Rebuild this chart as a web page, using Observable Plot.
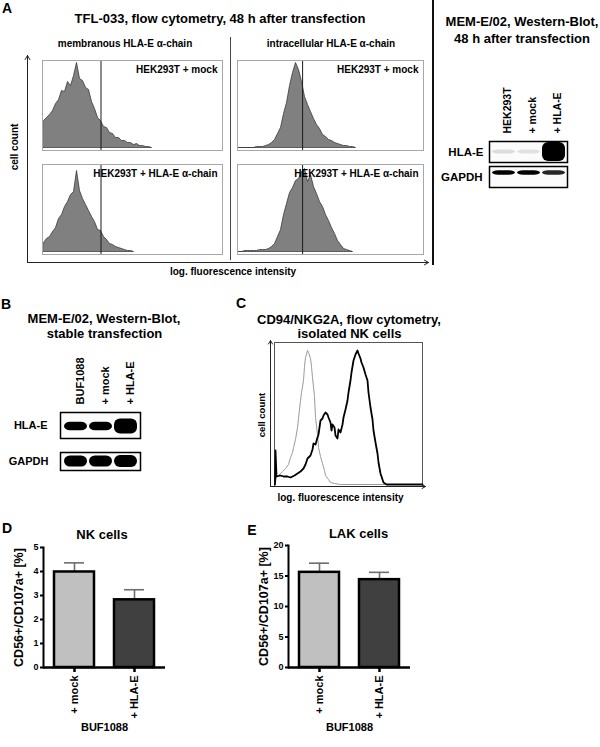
<!DOCTYPE html>
<html><head><meta charset="utf-8">
<script src="https://cdn.jsdelivr.net/npm/d3@7"></script>
<script src="https://cdn.jsdelivr.net/npm/@observablehq/plot@0.6"></script>
<style>
html,body{margin:0;padding:0;background:#fff;}
#fig{position:relative;width:600px;height:747px;overflow:hidden;background:#fff;font-family:"Liberation Sans",Arial,Helvetica,sans-serif;font-weight:bold;color:#000;}
.lbl{position:absolute;white-space:nowrap;line-height:1;}
#fig svg{overflow:visible;}
.sep{position:absolute;}
</style></head><body><div id="fig"></div>
<script>
// ---------------- DATA ----------------
// Panel A: flow cytometry histograms (cell count per fluorescence channel bin)
const memMock   = [27,30,33,37,44,48,57,56,66,62,72,85,69,67,60,58,46,39,30,27,21,20,15,14,10,10,7,7,5,5,3,4,2,2,1,1,0];
const memHLAE   = [9,13,15,20,24,33,37,45,50,57,60,81,61,53,47,41,35,30,22,21,15,12,8,7,5,4,3,2,1,1,0];
const intraMock = [0,0,0,0,0,0,1,1,1,2,3,5,8,14,20,34,45,62,75,85,78,66,51,43,36,29,23,19,13,11,8,7,5,4,3,2,2,1,1,0];
const intraHLAE = [0,0,1,1,1,1,1,2,2,2,3,5,8,15,22,37,48,59,64,71,73,80,83,70,77,65,58,50,45,37,31,24,18,11,7,3,2,1,0];
const gateMem = 19.5;    // gate channel (membranous)
const gateIntra = 21.7;  // gate channel (intracellular)
const histLabels = ["HEK293T + mock", "HEK293T + HLA-E α-chain"];

// Western blots: band signal (arbitrary densitometry units)
const lanesA = ["HEK293T", "+ mock", "+ HLA-E"];
const blotA_HLAE  = [0.12, 0.10, 6.0];
const blotA_GAPDH = [1.0, 1.0, 0.85];
const lanesB = ["BUF1088", "+ mock", "+ HLA-E"];
const blotB_HLAE  = [1.0, 1.0, 1.9];
const blotB_GAPDH = [1.0, 1.0, 1.1];

// Panel C: CD94/NKG2A histogram overlay (channel, count)
const isoChannel = [0.5,2,4,6,8,11,14,16,18,19,21,23,24,26,27,29,30,31,32,33,34,36,37,38,40,41,43,44,46,48,50,51,54,56,60,66,148];
const isoCount   = [0,7,9,11,13,16,20,27,32,37,45,57,66,84,92,104,118,127,130,134,132,126,118,107,88,67,50,37,28,21,14,9,5,2,1,0,0];
const nkChannel  = [0.5,1,2,6,9,13,16,20,23,26,29,31,33,36,38,39,41,43,44,46,48,49,51,53,54,56,57,58,60,61,63,64,66,68,69,71,73,74,76,77,79,81,83,84,86,87,89,91,93,94,96,98,99,101,103,104,106,108,109,112,148];
const nkCount    = [0,34,8,9,8,8,7,9,11,13,16,20,26,29,35,41,40,47,50,64,66,69,72,70,67,62,54,60,57,49,46,55,52,60,67,75,84,92,104,112,124,130,134,131,126,122,117,110,104,92,77,65,54,42,31,22,11,5,2,0,0];

// Panels D/E: CD107a degranulation
const bufGroups = ["+ mock", "+ HLA-E"];
const nkMean  = [3.98, 2.82];
const nkErr   = [0.38, 0.42];
const lakMean = [15.6, 14.4];
const lakErr  = [1.5, 1.2];
const nkTicks  = [0,1,2,3,4,5];
const lakTicks = [0,5,10,15,20];
const yLabel = "CD56+/CD107a+ [%]";
const xLabel = "BUF1088";

// ---------------- HELPERS ----------------
const FONT = '"Liberation Sans", Arial, Helvetica, sans-serif';
const STYLE = `font-family:${FONT};font-weight:bold;background:transparent;color:#000;overflow:visible;`;
const fig = document.getElementById("fig");
function put(node, left, top) {
  node.style.position = "absolute";
  node.style.left = left + "px";
  node.style.top = top + "px";
  fig.appendChild(node);
  return node;
}
function label(str, x, y, size, opt = {}) {
  const d = document.createElement("div");
  d.className = "lbl";
  d.textContent = str;
  d.style.fontSize = size + "px";
  d.style.left = x + "px";
  d.style.top = y + "px";
  const ax = opt.anchor === "end" ? "-100%" : opt.anchor === "start" ? "0" : "-50%";
  d.style.transform = `translate(${ax},-50%)` + (opt.rotate ? ` rotate(${opt.rotate}deg)` : "");
  fig.appendChild(d);
}
function sep(left, top, w, h, color) {
  const d = document.createElement("div");
  d.className = "sep";
  Object.assign(d.style, {left: left + "px", top: top + "px", width: w + "px", height: h + "px", background: color});
  fig.appendChild(d);
}

// ---------------- PANEL A ----------------
label("A", 7, 8, 14);
label("TFL-033, flow cytometry, 48 h after transfection", 220, 18, 13);
label("membranous HLA-E α-chain", 125, 44, 10);
label("intracellular HLA-E α-chain", 331, 44, 10);
label("cell count", 15, 147, 10, {rotate: -90});
label("log. fluorescence intensity", 233, 272, 10);
sep(230, 37, 1, 223, "#444");

const axisArrows = [{x1: 0, y1: 0, x2: 1, y2: 0}, {x1: 0, y1: 0, x2: 0, y2: 1}];
put(Plot.plot({
  width: 401, height: 207, margin: 0, style: STYLE,
  x: {domain: [0, 1], axis: null}, y: {domain: [0, 1], axis: null},
  marks: [Plot.arrow(axisArrows, {x1: "x1", y1: "y1", x2: "x2", y2: "y2", stroke: "#222", strokeWidth: 1, headLength: 7})]
}), 27, 55);

function histPlot(counts, gate, bins, txt) {
  return Plot.plot({
    width: bins * 3, height: 90, margin: 0, style: STYLE,
    x: {domain: [0, bins], axis: null},
    y: {domain: [-2.5, 87.5], axis: null},
    marks: [
      Plot.areaY(counts, {x: (d, i) => i + 0.5, y: d => d, fill: "#808080", stroke: "#2a2a2a", strokeWidth: 0.7}),
      Plot.ruleX([gate], {stroke: "#1a1a1a", strokeWidth: 1}),
      Plot.frame({stroke: "#a8a8a8"}),
      Plot.text([txt], {frameAnchor: "top-right", textAnchor: "end", lineAnchor: "middle", dx: -5, dy: 9, fontSize: 10, fontWeight: "bold", fill: "#000"})
    ]
  });
}
put(histPlot(memMock, gateMem, 60, histLabels[0]), 42, 60);
put(histPlot(memHLAE, gateMem, 60, histLabels[1]), 42, 164);
put(histPlot(intraMock, gateIntra, 62, histLabels[0]), 237, 60);
put(histPlot(intraHLAE, gateIntra, 62, histLabels[1]), 237, 164);

// ---------------- WESTERN BLOTS ----------------
function blotRow(lanes, signal, rowName, o) {
  const bands = lanes.map((lane, i) => ({lane, s: signal[i]}));
  const th = d => o.base * Math.pow(Math.max(d.s, 1), 0.9);
  const off = o.offset || 0;
  return Plot.plot({
    width: o.w, height: o.h, margin: 0, style: STYLE,
    x: {type: "band", domain: lanes, padding: o.pad ?? 0.1, axis: null},
    y: {domain: [-o.h / 2, o.h / 2], axis: null},
    marks: [
      Plot.frame({fill: "#fbfbfb"}),
      Plot.barY(bands, {x: "lane", y1: d => off - th(d) / 2, y2: d => off + th(d) / 2, fill: "#000",
        fillOpacity: d => Math.min(1, d.s), rx: 6, imageFilter: "blur(0.6px)"}),
      Plot.frame({stroke: "#000", strokeWidth: 1.5}),
      Plot.text([rowName], {frameAnchor: "left", textAnchor: "end", dx: o.labelDx, fontSize: o.labelSize, fontWeight: "bold", fill: "#000"}),
      o.laneLabels ? Plot.text(lanes, {x: d => d, frameAnchor: "top", rotate: -90, textAnchor: "start", dy: -8,
        fontSize: o.laneSize, fontWeight: "bold", fill: "#000"}) : null
    ]
  });
}
// Blot A (48 h)
sep(432, 0, 2, 265, "#111");
label("MEM-E/02, Western-Blot,", 522, 21, 13);
label("48 h after transfection", 522, 37.5, 13);
put(blotRow(lanesA, blotA_HLAE, "HLA-E", {w: 78, h: 21, base: 3.8, labelDx: -6, labelSize: 11.5, laneLabels: true, laneSize: 10.5}), 489, 141);
put(blotRow(lanesA, blotA_GAPDH, "GAPDH", {w: 78, h: 21, base: 4.5, offset: 4, labelDx: -7, labelSize: 11.5}), 489, 166);

// Blot B (stable)
label("B", 6, 304, 14);
label("MEM-E/02, Western-Blot,", 104, 317.5, 13);
label("stable transfection", 104.5, 332.5, 13);
put(blotRow(lanesB, blotB_HLAE, "HLA-E", {w: 80, h: 26, base: 8.5, offset: -1, pad: 0.08, labelDx: -13, labelSize: 11, laneLabels: true, laneSize: 11}), 60, 412);
put(blotRow(lanesB, blotB_GAPDH, "GAPDH", {w: 80, h: 18, base: 11, pad: 0.08, labelDx: -12, labelSize: 11}), 60, 452);

// ---------------- PANEL C ----------------
label("C", 241, 303, 14);
label("CD94/NKG2A, flow cytometry,", 349, 319, 13);
label("isolated NK cells", 349.5, 333, 13);
label("cell count", 262, 415, 9.5, {rotate: -90});
label("log. fluorescence intensity", 340.5, 498, 10);
const iso = isoChannel.map((c, i) => ({c, n: isoCount[i]}));
const nk = nkChannel.map((c, i) => ({c, n: nkCount[i]}));
const cAxes = [{x1: -4, y1: -2, x2: -4, y2: 144}, {x1: -4, y1: -2, x2: 151, y2: -2}];
put(Plot.plot({
  width: 148, height: 144, margin: 0, style: STYLE,
  x: {domain: [0, 148], axis: null},
  y: {domain: [-2, 142], axis: null},
  marks: [
    Plot.frame({stroke: "#555", strokeWidth: 1}),
    Plot.line(iso, {x: "c", y: "n", stroke: "#9a9a9a", strokeWidth: 1}),
    Plot.line(nk, {x: "c", y: "n", stroke: "#000", strokeWidth: 1.8}),
    Plot.arrow(cAxes, {x1: "x1", y1: "y1", x2: "x2", y2: "y2", stroke: "#222", strokeWidth: 1, headLength: 6})
  ]
}), 274, 342);

// ---------------- PANELS D / E ----------------
function barPanel(means, errs, ticks, marginLeft, plotH) {
  const data = bufGroups.map((g, i) => ({g, m: means[i], e: errs[i]}));
  return Plot.plot({
    width: marginLeft + 122 + 6, height: 20 + plotH + 70,
    marginLeft, marginTop: 20, marginRight: 6, marginBottom: 70, style: STYLE,
    x: {type: "band", domain: bufGroups, paddingInner: 0.333, paddingOuter: 0.18},
    y: {domain: [0, d3.max(ticks)]},
    marks: [
      Plot.ruleX(data, {x: "g", y1: "m", y2: d => d.m + d.e, stroke: "#6e6e6e", strokeWidth: 1.6}),
      Plot.tickY(data, {x: "g", y: d => d.m + d.e, stroke: "#6e6e6e", strokeWidth: 1.6, insetLeft: 10, insetRight: 10}),
      Plot.barY(data, {x: "g", y: "m", fill: d => d.g === bufGroups[0] ? "#c0c0c0" : "#404040", stroke: "#000", strokeWidth: 2.5}),
      Plot.ruleY([0], {stroke: "#000", strokeWidth: 2.5}),
      Plot.frame({anchor: "left", stroke: "#000", strokeWidth: 2}),
      Plot.axisY({ticks, tickFormat: d3.format("d"), tickSize: 3, tickPadding: 2, strokeWidth: 2, fontSize: 9, fontWeight: "bold", label: null}),
      Plot.axisX({tickSize: 5, strokeWidth: 2.5, tickRotate: -90, tickPadding: 3, fontSize: 11, fontWeight: "bold", label: null}),
      Plot.text([yLabel], {frameAnchor: "left", rotate: -90, textAnchor: "middle", lineAnchor: "middle", dx: -25, fontSize: 12.5, fontWeight: "bold", fill: "#000"}),
      Plot.text([xLabel], {frameAnchor: "bottom", textAnchor: "middle", lineAnchor: "middle", dy: 60, fontSize: 11, fontWeight: "bold", fill: "#000"})
    ]
  });
}
label("D", 7, 528, 14);
label("NK cells", 102, 534, 13);
put(barPanel(nkMean, nkErr, nkTicks, 43, 120), 0, 527);
label("E", 252, 530, 14);
label("LAK cells", 358.5, 533, 13);
put(barPanel(lakMean, lakErr, lakTicks, 45, 122), 243, 525);
</script></body></html>
